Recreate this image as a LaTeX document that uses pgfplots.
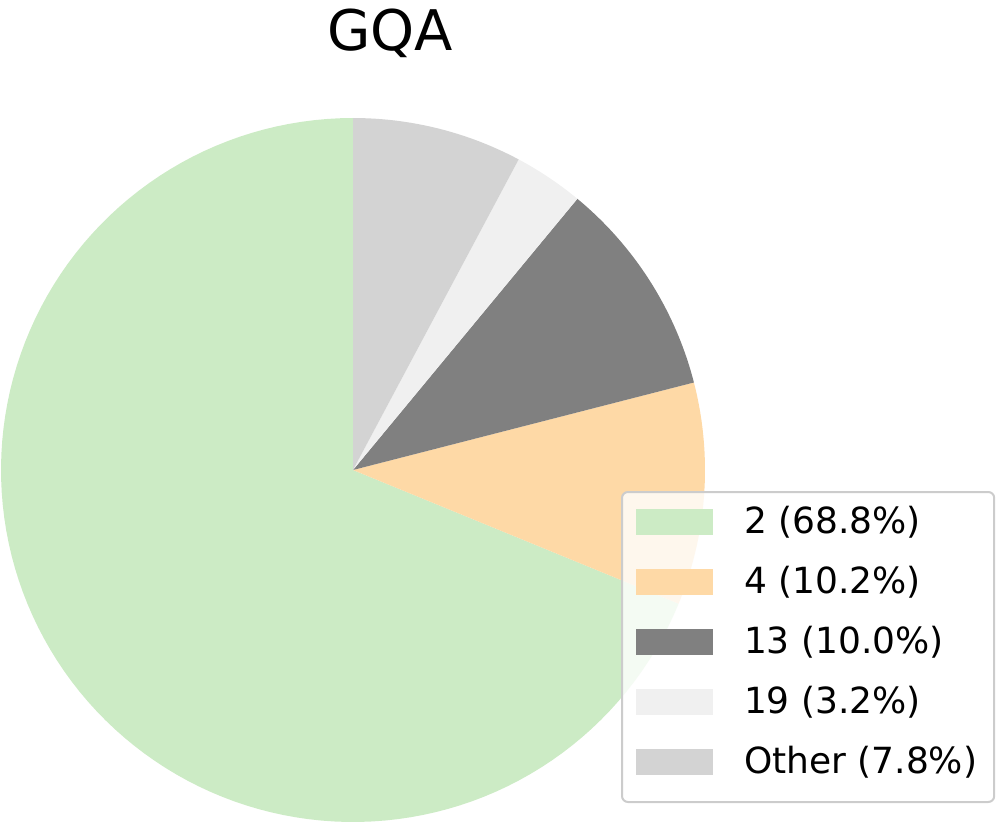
\documentclass[border=0pt]{standalone}
\usepackage{fontspec}
\setmainfont{DejaVu Sans}
\usepackage{pgfplots}
\pgfplotsset{compat=1.18}
\definecolor{cA}{HTML}{CCEBC5}
\definecolor{cB}{HTML}{FED9A6}
\definecolor{cC}{HTML}{808080}
\definecolor{cD}{HTML}{F0F0F0}
\definecolor{cE}{HTML}{D3D3D3}
% shares in percent
\def\pA{68.8}\def\pB{10.2}\def\pC{10.0}\def\pD{3.2}\def\pE{7.8}
\pgfmathsetmacro{\aA}{90}
\pgfmathsetmacro{\aB}{\aA+3.6*\pA}
\pgfmathsetmacro{\aC}{\aB+3.6*\pB}
\pgfmathsetmacro{\aD}{\aC+3.6*\pC}
\pgfmathsetmacro{\aE}{\aD+3.6*\pD}
\pgfmathsetmacro{\aF}{\aE+3.6*\pE}
\begin{document}
\begin{tikzpicture}
\begin{axis}[
  scale only axis, width=498pt, height=413pt,
  xmin=0, xmax=996, ymin=0, ymax=826,
  hide axis, clip=false,
  legend cell align=left,
  legend style={at={(axis cs:621,23)}, anchor=south west,
    draw=black!20, line width=1pt, rounded corners=3pt,
    fill=white, fill opacity=0.8, draw opacity=1, text opacity=1,
    font=\fontsize{18}{22}\selectfont,
    inner xsep=4.5pt, inner ysep=7.5pt, row sep=10pt, column sep=11.5pt,
    nodes={inner xsep=4pt, inner ysep=0pt, text height=13pt, text depth=7pt}},
  legend image code/.code={\path (0pt,2.5pt); \fill[#1, fill opacity=1, sharp corners] (2.5pt,-4pt) rectangle (41pt,9pt);},
]
\path (rel axis cs:0,0) rectangle (rel axis cs:1,1);
\addplot[fill=cA, draw=none, domain=\aA:\aB, samples=120] ({353+352*cos(x)},{356+352*sin(x)}) -- (axis cs:353,356) -- cycle;
\addlegendentry{2 (68.8\%)}
\addplot[fill=cB, draw=none, domain=\aB:\aC, samples=30] ({353+352*cos(x)},{356+352*sin(x)}) -- (axis cs:353,356) -- cycle;
\addlegendentry{4 (10.2\%)}
\addplot[fill=cC, draw=none, domain=\aC:\aD, samples=30] ({353+352*cos(x)},{356+352*sin(x)}) -- (axis cs:353,356) -- cycle;
\addlegendentry{13 (10.0\%)}
\addplot[fill=cD, draw=none, domain=\aD:\aE, samples=15] ({353+352*cos(x)},{356+352*sin(x)}) -- (axis cs:353,356) -- cycle;
\addlegendentry{19 (3.2\%)}
\addplot[fill=cE, draw=none, domain=\aE:\aF, samples=25] ({353+352*cos(x)},{356+352*sin(x)}) -- (axis cs:353,356) -- cycle;
\addlegendentry{Other (7.8\%)}
\node[font=\fontsize{28}{32}\selectfont] at (axis cs:390,793) {GQA};
\end{axis}
\end{tikzpicture}
\end{document}
